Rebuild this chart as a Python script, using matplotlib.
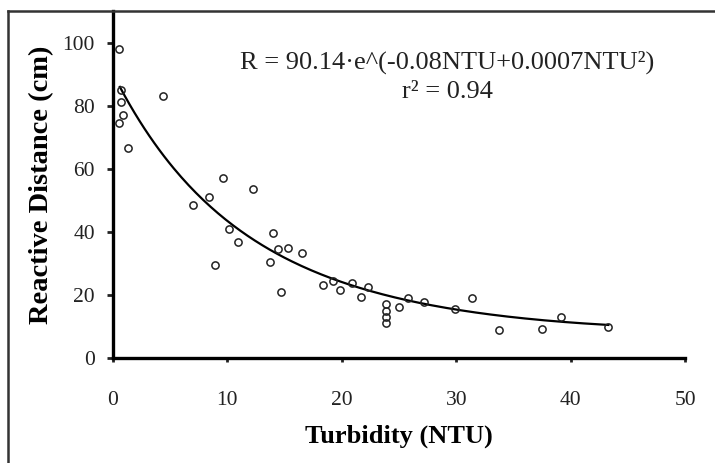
import matplotlib.pyplot as plt
import numpy as np
from matplotlib.lines import Line2D

# observed points (turbidity NTU, reactive distance cm)
ntu = [0.5, 0.7, 0.7, 0.9, 0.5, 1.3, 4.4,
       9.6, 8.4, 7.0, 12.2, 10.1, 10.9, 14.0, 14.4, 15.3, 16.5, 13.7, 8.9, 14.7,
       18.4, 19.2, 19.8, 20.9, 21.7, 22.3, 23.9, 23.9, 23.9, 23.9,
       25.0, 25.8, 27.2, 29.9, 31.4, 33.7, 37.5, 39.2, 43.3]
dist = [98, 85, 81, 77, 74.5, 66.5, 83,
        57, 51, 48.5, 53.5, 40.8, 36.7, 39.5, 34.5, 34.8, 33.2, 30.4, 29.4, 20.9,
        23, 24.4, 21.5, 23.7, 19.3, 22.5, 17, 15, 13, 11,
        16.1, 19, 17.8, 15.4, 19, 8.9, 9.1, 13, 9.9]

# fitted model from the chart
a, b, c = 90.14, -0.08, 0.0007
fit_start, fit_end = 0.6, 43.3

xticks = [0, 10, 20, 30, 40, 50]
yticks = [0, 20, 40, 60, 80, 100]

plt.rcParams['font.family'] = ['Liberation Serif', 'DejaVu Serif']

fig = plt.figure(figsize=(7.15, 4.63), dpi=100)
ax = fig.add_axes([113/715, 105/463, 572/715, 347/463])

xf = np.linspace(fit_start, fit_end, 200)
ax.plot(xf, a*np.exp(b*xf + c*xf**2), color='black', lw=1.6, zorder=2)
ax.plot(ntu, dist, 'o', mfc='none', mec='#222222', ms=5.2, mew=1.1, zorder=3)

ax.set_xlim(0, 50)
ax.set_ylim(0, 110)
ax.set_xticks(xticks)
ax.set_yticks(yticks)
for s in ['top', 'right']:
    ax.spines[s].set_visible(False)
for s in ['left', 'bottom']:
    ax.spines[s].set_linewidth(2.4)
ax.tick_params(axis='y', direction='out', length=4, width=2, pad=9, labelsize=15.5, colors='#222222')
ax.tick_params(axis='x', direction='out', length=3, width=2, pad=21, labelsize=15.5, colors='#222222')

ax.set_xlabel('Turbidity (NTU)', fontsize=19, fontweight='bold', labelpad=10)
ax.set_ylabel('Reactive Distance (cm)', fontsize=20.5, fontweight='bold', labelpad=6)

ax.text(0.584, 0.853, 'R = 90.14·e^(-0.08NTU+0.0007NTU²)', transform=ax.transAxes,
        ha='center', va='center', fontsize=19, color='#222222')
ax.text(0.584, 0.767, 'r² = 0.94', transform=ax.transAxes,
        ha='center', va='center', fontsize=19, color='#222222')

# outer frame (left and top edges only are visible)
fig.add_artist(Line2D([8/715, 8/715], [0, 1 - 11/463], transform=fig.transFigure, color='#333333', lw=1.8))
fig.add_artist(Line2D([8/715, 1], [1 - 11/463, 1 - 11/463], transform=fig.transFigure, color='#333333', lw=1.8))

fig.savefig('out.png', dpi=100)
